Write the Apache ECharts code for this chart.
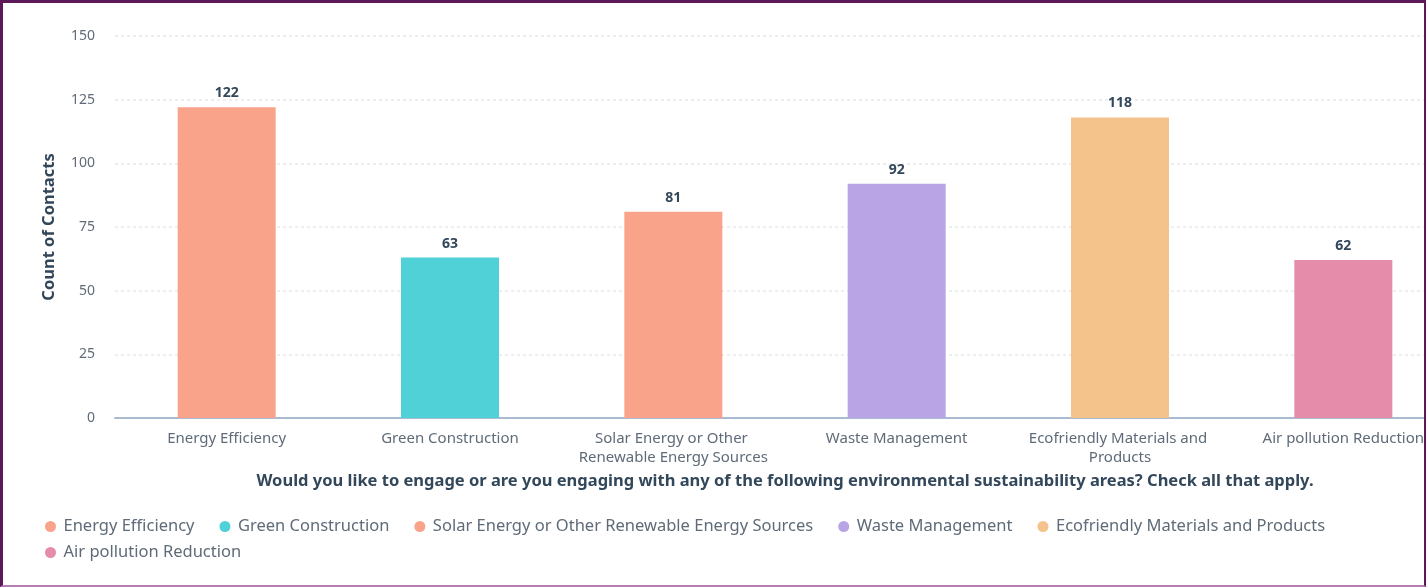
<!DOCTYPE html>
<html><head><meta charset="utf-8">
<script src="https://cdn.jsdelivr.net/npm/echarts@6/dist/echarts.min.js"></script>
<style>
html,body{margin:0;padding:0;background:#fff;}
#frame{position:absolute;left:0;top:0;width:1426px;height:587px;box-sizing:border-box;border-left:3px solid #5c1858;border-top:3px solid #5c1858;border-right:2px solid #5c1858;border-bottom:2px solid #b57fb2;overflow:hidden;}
#chart{position:absolute;left:0;top:0;width:1480px;height:582px;}
</style></head><body>
<div id="frame"><div id="chart"></div></div>
<script>
const categories = ["Energy Efficiency","Green Construction","Solar Energy or Other Renewable Energy Sources","Waste Management","Ecofriendly Materials and Products","Air pollution Reduction"];
const values = [122, 63, 81, 92, 118, 62];
const colors = ["#f9a38b","#4fd1d7","#f9a38b","#b9a4e6","#f4c38b","#e68cab"];
const yTicks = [0,25,50,75,100,125,150];
const FONT = 'Noto Sans';

const chart = echarts.init(document.getElementById('chart'));
const series = categories.map((name, i) => ({
  name: name,
  type: 'bar',
  stack: 'all',
  barWidth: 98,
  itemStyle: { color: colors[i] },
  label: { show: true, position: 'top', color: '#33475b', fontWeight: 'bold', fontSize: 14, fontFamily: FONT, distance: 7 },
  data: categories.map((c, j) => j === i ? values[i] : '-')
}));
const legendText = { color: '#5f6b78', fontSize: 16.5, fontFamily: FONT };
chart.setOption({
  animation: false,
  textStyle: { fontFamily: FONT },
  grid: { left: 112, right: 28, top: 33, bottom: 167, containLabel: false },
  xAxis: {
    type: 'category',
    data: categories,
    axisLine: { lineStyle: { color: '#a9bccf', width: 2 } },
    axisTick: { show: false },
    axisLabel: { color: '#5f6b78', fontSize: 15, fontFamily: FONT, interval: 0, width: 200, overflow: 'break', lineHeight: 19, margin: 11 },
    name: 'Would you like to engage or are you engaging with any of the following environmental sustainability areas? Check all that apply.',
    nameLocation: 'middle',
    nameGap: 55,
    nameTextStyle: { color: '#33475b', fontWeight: 'bold', fontSize: 16.5, fontFamily: FONT }
  },
  yAxis: {
    type: 'value',
    min: yTicks[0], max: yTicks[yTicks.length - 1], interval: 25,
    axisLabel: { color: '#5f6b78', fontSize: 14, fontFamily: FONT, margin: 20 },
    splitLine: { lineStyle: { color: '#e6e9ec', type: [3, 3], width: 1.5 } },
    name: 'Count of Contacts',
    nameLocation: 'middle',
    nameGap: 57,
    nameTextStyle: { color: '#33475b', fontWeight: 'bold', fontSize: 16.5, fontFamily: FONT }
  },
  legend: [{
    left: 37, top: 510,
    icon: 'circle', itemWidth: 16, itemHeight: 11, itemGap: 25,
    textStyle: legendText,
    data: categories.slice(0, 5)
  }, {
    left: 37, top: 536,
    icon: 'circle', itemWidth: 16, itemHeight: 11, itemGap: 25,
    textStyle: legendText,
    data: categories.slice(5)
  }],
  series: series
});
</script></body></html>
